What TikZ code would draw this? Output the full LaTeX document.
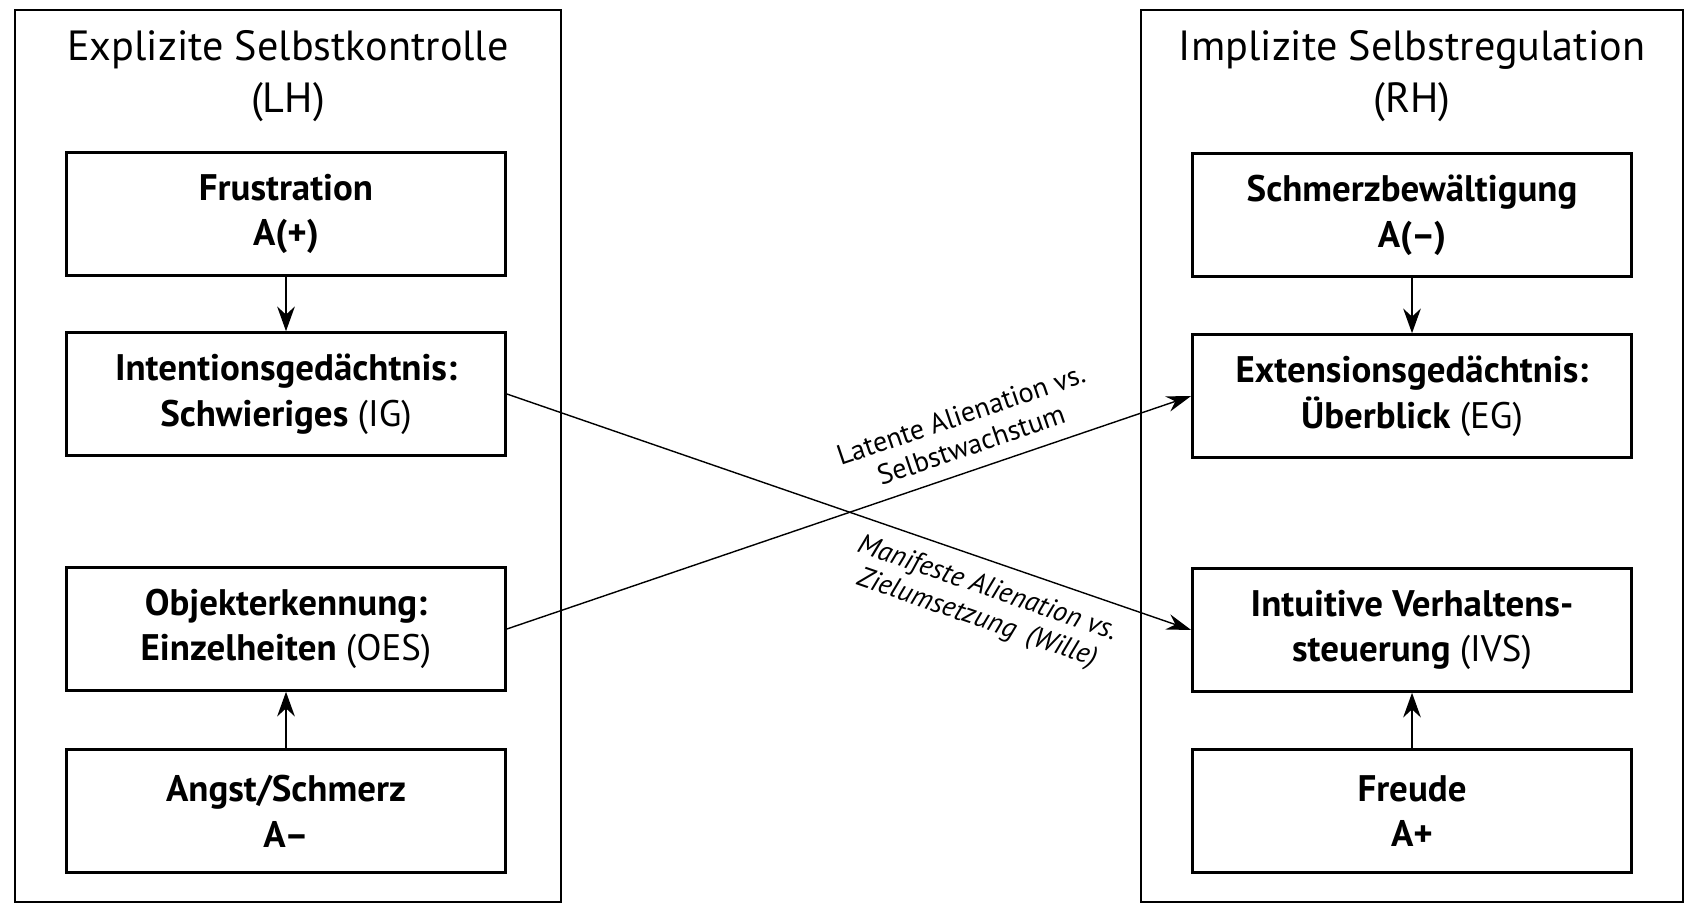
\documentclass[tikz,border=0pt]{standalone}
\usepackage{fontspec}
\setmainfont{PT Sans}
\usetikzlibrary{arrows.meta}

\tikzset{
  haelfte/.style={draw,line width=0.7pt},
  kopf/.style={align=center,inner sep=0pt,font=\fontsize{12}{14.7}\selectfont},
  kasten/.style={draw,line width=0.7pt,minimum width=4.39cm,minimum height=1.23cm,
    align=center,inner sep=0pt,font=\fontsize{10.5}{13}\selectfont\bfseries},
  pfeil/.style={-{Stealth[length=7pt,width=5pt]},line width=0.7pt},
  kreuz/.style={-{Stealth[length=7pt,width=4.5pt]},line width=0.4pt},
  quer/.style={sloped,align=center,inner sep=0pt,font=\fontsize{8}{9}\selectfont}
}

\begin{document}
\begin{tikzpicture}[x=0.01cm,y=-0.01cm]
\useasboundingbox (0,0) rectangle (1689,904);

% linke und rechte Haelfte
\draw[haelfte] (15,10) rectangle (561,902);
\draw[haelfte] (1141,10) rectangle (1683,902);
\node[kopf] (lh) at (288,76) {Explizite Selbstkontrolle\\(LH)};
\node[kopf] (rh) at (1412,76) {Implizite Selbstregulation\\(RH)};

% linke Seite
\node[kasten] (frust) at (286,214) {Frustration\\A(+)};
\node[kasten] (ig) at (286,394) {Intentionsged\"achtnis:\\Schwieriges \mdseries(IG)};
\node[kasten] (oes) at (286,629) {Objekterkennung:\\Einzelheiten \mdseries(OES)};
\node[kasten] (angst) at (286,811) {Angst/Schmerz\\A--};

% rechte Seite
\node[kasten] (schmerz) at (1412,215) {Schmerzbew\"altigung\\A(--)};
\node[kasten] (eg) at (1412,396) {Extensionsged\"achtnis:\\\"Uberblick \mdseries(EG)};
\node[kasten] (ivs) at (1412,630) {Intuitive Verhaltens-\\steuerung \mdseries(IVS)};
\node[kasten] (freude) at (1412,811) {Freude\\A+};

\draw[pfeil] (frust) -- (ig);
\draw[pfeil] (angst) -- (oes);
\draw[pfeil] (schmerz) -- (eg);
\draw[pfeil] (freude) -- (ivs);

% Kreuzung
\draw[kreuz] (oes.east) -- (eg.west)
  node[quer,pos=0.69,above=4pt] (latent) {Latente Alienation vs.\\Selbstwachstum};
\draw[kreuz] (ig.east) -- (ivs.west)
  node[quer,pos=0.715,below=4pt,font=\fontsize{8}{9}\selectfont\itshape] (manifest) {Manifeste Alienation vs.\\Zielumsetzung \,(Wille)};

\end{tikzpicture}
\end{document}
